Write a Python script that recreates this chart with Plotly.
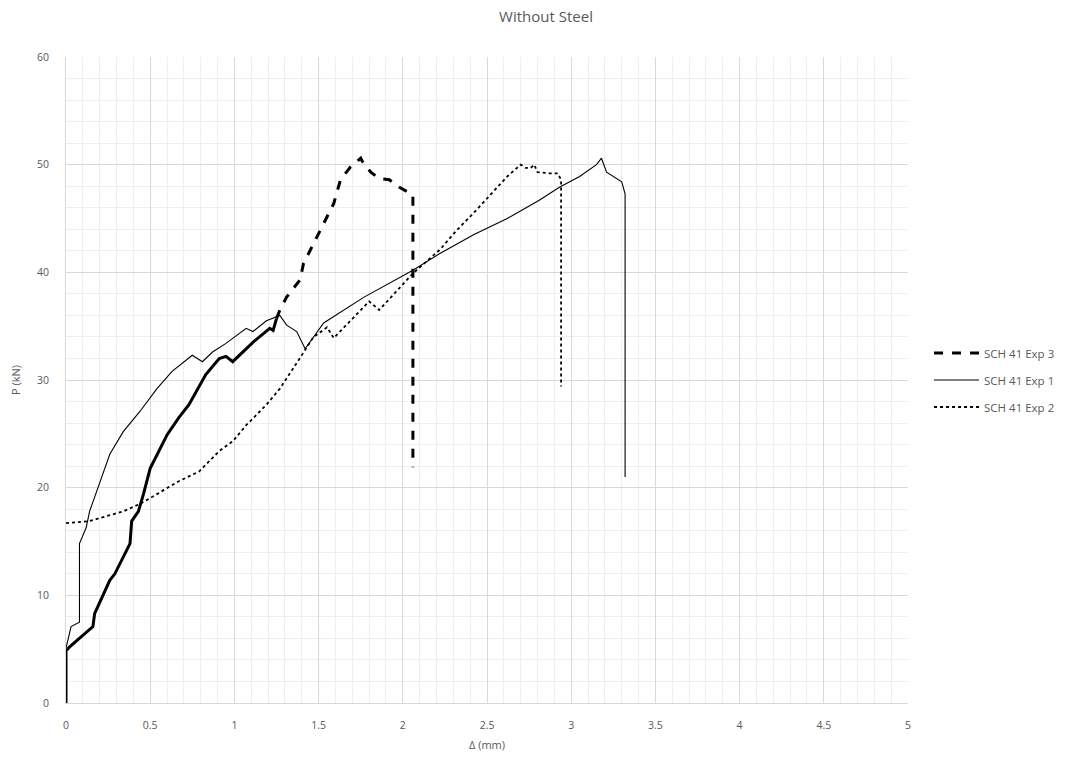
import plotly.graph_objects as go

# SCH 41 Exp 3 (thick dashed)
exp3_x = [0.0, 0.0, 0.0, 0.01, 0.02, 0.16, 0.17, 0.26, 0.29, 0.38, 0.39, 0.43, 0.46, 0.50, 0.60,
          0.67, 0.73, 0.83, 0.91, 0.95, 0.99, 1.11, 1.21, 1.23, 1.25, 1.27, 1.31, 1.39, 1.41,
          1.47, 1.53, 1.59, 1.63, 1.69, 1.75, 1.76, 1.81, 1.86, 1.92, 1.98, 2.06, 2.06]
exp3_y = [0.0, 2.5, 4.9, 5.0, 5.2, 7.1, 8.3, 11.4, 12.0, 14.8, 16.9, 17.8, 19.4, 21.8, 24.9,
          26.5, 27.7, 30.5, 32.0, 32.2, 31.7, 33.5, 34.8, 34.6, 35.7, 36.5, 37.7, 39.3, 40.8,
          42.7, 44.5, 46.4, 48.6, 49.8, 50.6, 50.3, 49.3, 48.7, 48.6, 47.9, 47.2, 21.9]

# SCH 41 Exp 1 (thin solid)
exp1_x = [0.0, 0.03, 0.08, 0.08, 0.12, 0.14, 0.19, 0.26, 0.34, 0.44, 0.54, 0.63, 0.75, 0.81,
          0.87, 0.95, 1.07, 1.11, 1.19, 1.27, 1.31, 1.37, 1.42, 1.53, 1.77, 2.06, 2.22, 2.42,
          2.62, 2.81, 2.93, 3.05, 3.15, 3.18, 3.21, 3.25, 3.30, 3.32, 3.32]
exp1_y = [5.1, 7.1, 7.5, 14.8, 16.3, 17.8, 20.0, 23.1, 25.2, 27.1, 29.2, 30.8, 32.3, 31.7,
          32.6, 33.4, 34.8, 34.5, 35.5, 36.0, 35.1, 34.5, 32.9, 35.3, 37.7, 40.2, 41.75, 43.5,
          45.0, 46.7, 47.9, 48.9, 50.0, 50.6, 49.3, 48.9, 48.4, 47.3, 21.0]

# SCH 41 Exp 2 (dotted)
exp2_x = [0.0, 0.14, 0.34, 0.44, 0.54, 0.67, 0.79, 0.91, 0.99, 1.07, 1.19, 1.27, 1.35, 1.42,
          1.47, 1.55, 1.59, 1.80, 1.86, 2.06, 2.22, 2.32, 2.42, 2.52, 2.62, 2.70, 2.73, 2.76,
          2.78, 2.80, 2.87, 2.92, 2.94, 2.94]
exp2_y = [16.7, 16.9, 17.8, 18.5, 19.4, 20.6, 21.5, 23.4, 24.3, 25.8, 27.7, 29.2, 31.1, 32.8,
          34.0, 34.9, 33.9, 37.3, 36.5, 39.9, 42.1, 43.9, 45.5, 47.2, 48.9, 50.0, 49.7, 49.7,
          50.0, 49.3, 49.2, 49.2, 48.6, 29.4]

x_ticks = [0, 0.5, 1, 1.5, 2, 2.5, 3, 3.5, 4, 4.5, 5]
x_tick_labels = ["0", "0.5", "1", "1.5", "2", "2.5", "3", "3.5", "4", "4.5", "5"]
y_ticks = [0, 10, 20, 30, 40, 50, 60]

# the dense, jittery lower part of Exp 3 reads as a solid thick stroke in the original
split = exp3_x.index(1.25) + 1

fig = go.Figure()
fig.add_trace(go.Scatter(x=exp3_x[:split], y=exp3_y[:split], mode="lines", name="SCH 41 Exp 3",
                         legendgroup="e3", showlegend=False,
                         line=dict(color="black", width=3)))
fig.add_trace(go.Scatter(x=exp3_x[split - 1:], y=exp3_y[split - 1:], mode="lines",
                         name="SCH 41 Exp 3", legendgroup="e3",
                         line=dict(color="black", width=3, dash="dash")))
fig.add_trace(go.Scatter(x=exp1_x, y=exp1_y, mode="lines", name="SCH 41 Exp 1",
                         legendgroup="e1", line=dict(color="black", width=1.1)))
fig.add_trace(go.Scatter(x=exp2_x, y=exp2_y, mode="lines", name="SCH 41 Exp 2",
                         legendgroup="e2", line=dict(color="black", width=1.8, dash="dot")))

font_family = "Open Sans, Liberation Sans, sans-serif"
fig.update_layout(
    width=1092, height=767,
    margin=dict(l=66, r=184, t=57, b=64),
    paper_bgcolor="white", plot_bgcolor="white",
    title=dict(text="Without Steel", x=0.5, xanchor="center", y=0.978, yanchor="middle",
               font=dict(family=font_family, size=15, color="#595959")),
    font=dict(family=font_family, size=10, color="#595959"),
    showlegend=True,
    legend=dict(x=1.025, y=0.5, xanchor="left", yanchor="middle",
                font=dict(family=font_family, size=11.5, color="#595959"),
                itemwidth=45, tracegroupgap=8, bgcolor="rgba(0,0,0,0)"),
    xaxis=dict(range=[0, 5], tickvals=x_ticks, ticktext=x_tick_labels,
               showgrid=True, gridcolor="#d9d9d9", gridwidth=1,
               minor=dict(dtick=0.1, showgrid=True, gridcolor="#efefef", gridwidth=1),
               showline=True, linecolor="#d9d9d9", linewidth=1, zeroline=False,
               ticks="", ticklabelstandoff=12, tickfont=dict(size=10.5, color="#595959"),
               title=dict(text="Δ (mm)", font=dict(size=11, color="#595959"), standoff=10)),
    yaxis=dict(range=[0, 60], tickvals=y_ticks,
               showgrid=True, gridcolor="#d9d9d9", gridwidth=1,
               minor=dict(dtick=2, showgrid=True, gridcolor="#efefef", gridwidth=1),
               showline=True, linecolor="#d9d9d9", linewidth=1, zeroline=False,
               ticks="", ticklabelstandoff=14, tickfont=dict(size=10.5, color="#595959"),
               title=dict(text="P (kN)", font=dict(size=11, color="#595959"), standoff=14)),
)

fig.write_html("out.html")
